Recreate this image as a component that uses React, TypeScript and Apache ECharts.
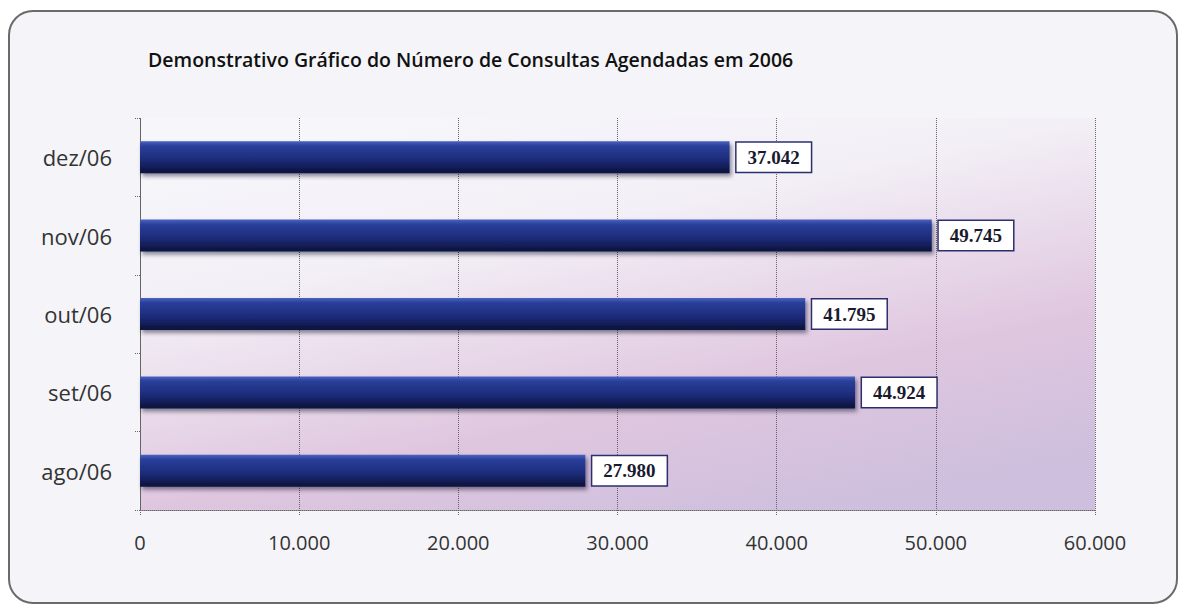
import React, { useEffect, useRef } from "react";
import * as echarts from "echarts";

const categories = ["ago/06", "set/06", "out/06", "nov/06", "dez/06"];
const values = [27980, 44924, 41795, 49745, 37042];
const titleText = "Demonstrativo Gráfico do Número de Consultas Agendadas em 2006";

const fmt = (v: number) => {
  const s = String(Math.round(v));
  return s.replace(/\B(?=(\d{3})+(?!\d))/g, ".");
};

export default function App() {
  const ref = useRef<HTMLDivElement>(null);
  useEffect(() => {
    if (!ref.current) return;
    const chart = echarts.init(ref.current, null, { renderer: "svg" });
    chart.setOption({
      animation: false,
      backgroundColor: "#ffffff",
      graphic: [
        {
          type: "rect",
          z: -10,
          shape: { x: 9, y: 11, width: 1168, height: 592, r: 24 },
          style: { fill: "#f5f5f9", stroke: "#6a6a6a", lineWidth: 2 },
        },
        {
          type: "text",
          left: 148,
          top: 49,
          style: {
            text: titleText,
            font: "600 19.5px 'Open Sans', sans-serif",
            fill: "#111111",
          },
        },
      ],
      grid: {
        left: 140,
        right: 89,
        top: 118,
        bottom: 98,
        show: true,
        borderWidth: 0,
        backgroundColor: new echarts.graphic.LinearGradient(0.25, 0, 0.75, 1, [
          { offset: 0, color: "#f6f6fb" },
          { offset: 0.3, color: "#f3eff6" },
          { offset: 0.7, color: "#dfc6df" },
          { offset: 1, color: "#cdbfdd" },
        ]),
      },
      xAxis: {
        type: "value",
        min: 0,
        max: 60000,
        interval: 10000,
        axisLine: { show: true, lineStyle: { color: "#666", type: "dotted", width: 1 } },
        axisTick: { show: true, length: 6, lineStyle: { color: "#666", type: "dotted" } },
        splitLine: { show: true, lineStyle: { color: "#666", type: "dotted", width: 1 } },
        axisLabel: {
          formatter: (v: number) => fmt(v),
          color: "#333",
          fontSize: 20,
          fontFamily: "'Open Sans', sans-serif",
          margin: 22,
        },
      },
      yAxis: {
        type: "category",
        data: categories,
        axisLine: { show: true, lineStyle: { color: "#666", type: "dotted" } },
        axisTick: { show: true, length: 5, lineStyle: { color: "#666", type: "dotted" } },
        axisLabel: {
          color: "#333",
          fontSize: 22,
          fontFamily: "'Open Sans', sans-serif",
          margin: 28,
        },
      },
      series: [
        {
          type: "bar",
          data: values,
          barWidth: 32,
          itemStyle: {
            color: new echarts.graphic.LinearGradient(0, 0, 0, 1, [
              { offset: 0, color: "#4a63c0" },
              { offset: 0.15, color: "#2a3f9a" },
              { offset: 0.6, color: "#1c2a78" },
              { offset: 1, color: "#0b1238" },
            ]),
            shadowColor: "rgba(0,0,40,0.45)",
            shadowBlur: 4,
            shadowOffsetX: 2,
            shadowOffsetY: 3,
          },
          label: {
            show: true,
            position: "right",
            distance: 7,
            formatter: (p: any) => fmt(p.value),
            color: "#1a1a2e",
            fontSize: 19,
            fontFamily: "'Liberation Serif', 'DejaVu Serif', serif",
            fontWeight: "bold",
            backgroundColor: "#ffffff",
            borderColor: "#2b2f6e",
            borderWidth: 1.5,
            padding: [6, 11, 4, 11],
          },
        },
      ],
    });
    return () => chart.dispose();
  }, []);
  return (
    <div
      ref={ref}
      style={{ position: "fixed", left: 0, top: 0, width: 1184, height: 608 }}
    />
  );
}
